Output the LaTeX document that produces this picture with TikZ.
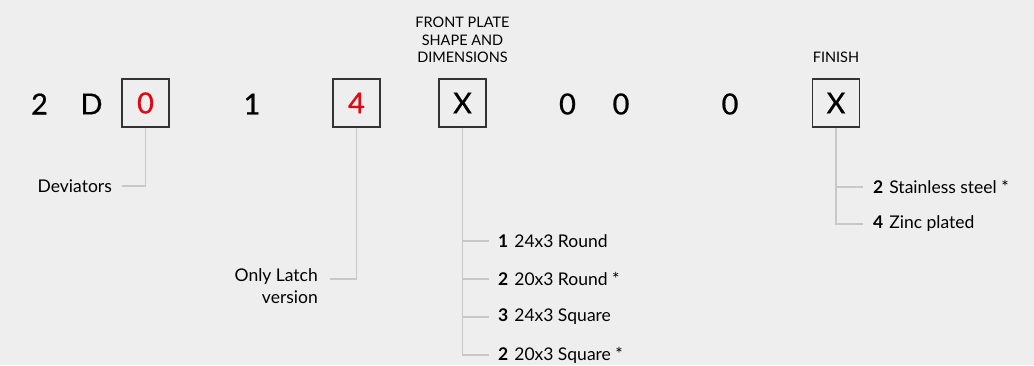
\documentclass[tikz,border=0pt]{standalone}
\usepackage{fontspec}
\setmainfont{Lato}
\newfontfamily\codefont[FakeBold=0.6]{Lato}
\usetikzlibrary{positioning}
\definecolor{bggray}{HTML}{EEEEEE}
\definecolor{codered}{HTML}{E30613}
\definecolor{leadgray}{HTML}{C8C8C8}

\begin{document}
\begin{tikzpicture}[x=1pt,y=-1pt,
	digit/.style={font=\codefont\fontsize{29}{30}\selectfont, inner sep=0pt},
	codebox/.style={digit, draw=black!80, line width=1.2pt, minimum width=47pt, minimum height=48pt},
	head/.style={font=\fontsize{14.5}{17.5}\selectfont, align=center, inner sep=0pt},
	lbl/.style={font=\fontsize{17.5}{22}\selectfont, inner sep=0pt},
	lead/.style={draw=leadgray, line width=1.4pt}]
	\fill[bggray] (0,0) rectangle (1034,365);
	\useasboundingbox (0,0) rectangle (1034,365);
	% code line
	\node[digit] (c1) at (39.5,104) {2};
	\node[digit] (c2) at (91.5,104) {D};
	\node[codebox, text=codered] (dev box) at (145.5,103) {0};
	\node[digit] (c4) at (252,104) {1};
	\node[codebox, text=codered] (latch box) at (356.5,103) {4};
	\node[codebox] (plate box) at (462.5,103) {X};
	\node[digit] (c7) at (567.5,104) {0};
	\node[digit] (c8) at (621,104) {0};
	\node[digit] (c9) at (730,104) {0};
	\node[codebox] (finish box) at (836,103) {X};
	% headings
	\node[head, anchor=south] (plate head) at (462.5,63) {FRONT PLATE\\SHAPE AND\\DIMENSIONS};
	\node[head, anchor=south] (finish head) at (836,63) {FINISH};
	% deviators
	\node[lbl, anchor=east] (dev) at (112,186) {Deviators};
	\draw[lead] (dev box.south) |- ([xshift=10pt]dev.east);
	% latch
	\node[lbl, align=right, anchor=north east] (latch) at (318,268) {Only Latch\\version};
	\draw[lead] (latch box.south) |- ([xshift=12pt,yshift=-11pt]latch.north east);
	% front plate options
	\foreach \n/\t [count=\i] in {1/24x3 Round, 2/20x3 Round *, 3/24x3 Square, 2/20x3 Square *}
		\node[lbl, anchor=west] (plate\i) at (498,203+38*\i) {\textbf{\n}\hspace{6pt}\t};
	\draw[lead] (plate box.south) |- ([xshift=-9pt]plate4.west);
	\foreach \i in {1,2,3}
		\draw[lead] (plate box.south |- plate\i.west) -- ([xshift=-9pt]plate\i.west);
	% finish options
	\node[lbl, anchor=west] (finish1) at (873,187) {\textbf{2}\hspace{6pt}Stainless steel *};
	\node[lbl, anchor=west] (finish2) at (873,224) {\textbf{4}\hspace{6pt}Zinc plated};
	\draw[lead] (finish box.south) |- ([xshift=-10pt]finish2.west);
	\draw[lead] (finish box.south |- finish1.west) -- ([xshift=-10pt]finish1.west);
\end{tikzpicture}
\end{document}
